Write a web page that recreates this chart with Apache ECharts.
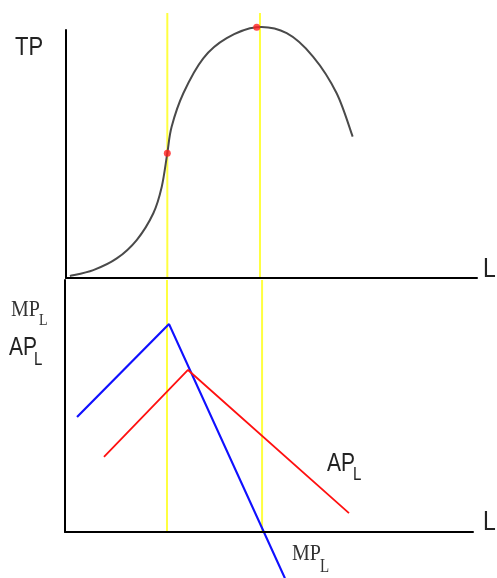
<!DOCTYPE html>
<html>
<head>
<meta charset="utf-8">
<script src="https://cdn.jsdelivr.net/npm/echarts@6/dist/echarts.min.js"></script>
<style>
  html, body { margin: 0; padding: 0; background: #fff; }
  #chart { width: 497px; height: 578px; }
</style>
</head>
<body>
<div id="chart"></div>
<script>
// total product curve (L, TP)
const tpCurve = [
  [0.19, 0.8], [1.33, 3.2], [2.47, 7.9], [3.44, 15.3], [4.25, 26.1],
  [4.66, 36.8], [4.93, 50.3], [5.14, 61.0], [5.71, 74.5], [6.68, 88.6],
  [7.82, 96.7], [9.28, 101.1], [10.74, 98.7], [12.03, 89.2], [13.17, 74.5],
  [13.95, 57.0]
];
// inflection point and maximum of TP
const tpPoints = [[4.93, 50.3], [9.28, 101.1]];
// marginal and average product
const mpLine = [[0.59, 45.6], [5.10, 82.5], [10.78, -18.3]];
const apLine = [[1.91, 29.8], [6.03, 64.3], [13.92, 7.5]];
// vertical guide lines (top panel x, bottom panel x)
const guidesTop = [4.93, 9.44];
const guidesBottom = [5.0, 9.66];
const guideTopY = 106.9;

const labelFont = '"Liberation Sans", Arial, sans-serif';
const serifFont = '"Liberation Serif", "Times New Roman", serif';

const chart = echarts.init(document.getElementById('chart'), null, { renderer: 'canvas' });

function axis(idx) {
  return {
    type: 'value', gridIndex: idx, min: 0,
    axisLine: { show: true, onZero: false, lineStyle: { color: '#000', width: 2 } },
    axisTick: { show: false }, axisLabel: { show: false }, splitLine: { show: false },
    z: 5
  };
}

function txt(text, x, y, size, font, fill) {
  return {
    type: 'text', x: x, y: y, scaleY: 1.2, z: 10,
    style: { text: text, font: size + 'px ' + font, fill: fill || '#222',
      align: 'left', verticalAlign: 'bottom' }
  };
}

// smooth TP curve: catmull-rom through the points, mapped by the axes
function renderTp(params, api) {
  const pts = tpCurve.map(function (p) { return api.coord(p); });
  let d = 'M' + pts[0][0] + ' ' + pts[0][1];
  for (let i = 0; i < pts.length - 1; i++) {
    const p0 = pts[Math.max(i - 1, 0)], p1 = pts[i], p2 = pts[i + 1];
    const p3 = pts[Math.min(i + 2, pts.length - 1)];
    d += ' C' + (p1[0] + (p2[0] - p0[0]) / 6) + ' ' + (p1[1] + (p2[1] - p0[1]) / 6) +
      ' ' + (p2[0] - (p3[0] - p1[0]) / 6) + ' ' + (p2[1] - (p3[1] - p1[1]) / 6) +
      ' ' + p2[0] + ' ' + p2[1];
  }
  return {
    type: 'path', shape: { pathData: d },
    style: { stroke: '#4a4a4a', lineWidth: 2, fill: null }
  };
}

const guideSeries = [];
guidesTop.forEach(function (gx) {
  guideSeries.push({
    type: 'line', xAxisIndex: 0, yAxisIndex: 0, clip: false, symbol: 'none', z: 1,
    lineStyle: { color: '#ffff40', width: 2 }, data: [[gx, 0], [gx, guideTopY]]
  });
});
guidesBottom.forEach(function (gx) {
  guideSeries.push({
    type: 'line', xAxisIndex: 1, yAxisIndex: 1, clip: false, symbol: 'none', z: 1,
    lineStyle: { color: '#ffff40', width: 2 }, data: [[gx, 0], [gx, 100]]
  });
});

chart.setOption({
  animation: false,
  backgroundColor: '#fff',
  grid: [
    { left: 66, top: 30, width: 411, height: 248 },
    { left: 65, top: 280, width: 408, height: 252 }
  ],
  xAxis: [
    Object.assign(axis(0), { max: 20 }),
    Object.assign(axis(1), { max: 20 })
  ],
  yAxis: [
    Object.assign(axis(0), { max: 100 }),
    Object.assign(axis(1), { max: 100 })
  ],
  series: guideSeries.concat([
    {
      type: 'custom', xAxisIndex: 0, yAxisIndex: 0, clip: false, z: 3,
      renderItem: renderTp, data: [tpCurve[0]]
    },
    {
      type: 'scatter', xAxisIndex: 0, yAxisIndex: 0, clip: false, z: 4,
      symbolSize: 7, itemStyle: { color: '#ff2020' }, data: tpPoints
    },
    {
      type: 'line', xAxisIndex: 1, yAxisIndex: 1, clip: false, symbol: 'none', z: 3,
      lineStyle: { color: '#1010ff', width: 2.2 }, data: mpLine
    },
    {
      type: 'line', xAxisIndex: 1, yAxisIndex: 1, clip: false, symbol: 'none', z: 3,
      lineStyle: { color: '#ff1010', width: 1.8 }, data: apLine
    }
  ]),
  graphic: [
    txt('TP', 15, 61, 22, labelFont),
    txt('MP', 11, 322, 20, serifFont, '#333'),
    txt('L', 39, 329, 14, serifFont, '#333'),
    txt('AP', 9, 361, 21, labelFont),
    txt('L', 34, 369, 15, labelFont),
    txt('AP', 327, 477, 21, labelFont),
    txt('L', 353, 484, 15, labelFont),
    txt('MP', 292, 566, 20, serifFont, '#333'),
    txt('L', 320, 576, 15, serifFont, '#333'),
    txt('L', 483, 283, 23, labelFont),
    txt('L', 483, 536, 23, labelFont)
  ]
});
</script>
</body>
</html>
